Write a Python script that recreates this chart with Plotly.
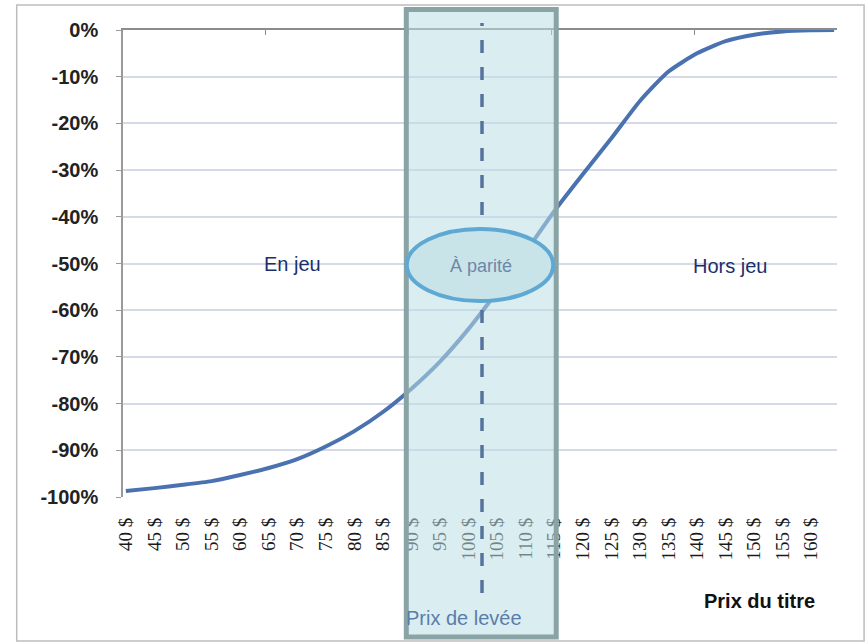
import plotly.graph_objects as go

# Prix du titre ($) et delta de l'option de vente (%)
prix = [40, 45, 50, 55, 60, 65, 70, 75, 80, 85, 90, 95, 100,
        105, 110, 115, 120, 125, 130, 135, 140, 145, 150, 155, 160, 164]
delta = [-98.7, -98.1, -97.4, -96.6, -95.3, -93.8, -91.9, -89.2, -85.9, -81.8,
         -76.8, -71.0, -64.0, -56.0, -47.5, -38.8, -30.9, -23.2, -15.2, -8.9,
         -5.0, -2.4, -1.0, -0.3, -0.05, 0.0]

# Étiquettes de l'axe des prix
prix_ticks = list(range(40, 161, 5))
prix_labels = [f"{p} $" for p in prix_ticks]

# Étiquettes de l'axe du delta
delta_ticks = list(range(0, -101, -10))
delta_labels = [f"{v}%" for v in delta_ticks]

# Séparateurs de l'axe supérieur (toutes les 25 $)
separateurs = [39.5, 64.5, 89.5, 114.5, 139.5, 164.5]

X_RANGE = [39.5, 164.5]

fig = go.Figure()

fig.add_trace(go.Scatter(
    x=prix, y=delta, mode="lines",
    line=dict(color="#4a72b0", width=4, shape="spline", smoothing=0.6),
    hoverinfo="skip", showlegend=False,
))

# axe supérieur (ligne 0 %) avec séparateurs
fig.add_trace(go.Scatter(x=[None], y=[None], xaxis="x2", showlegend=False))

fig.update_layout(
    width=866, height=643,
    margin=dict(l=123, r=29, t=30, b=146),
    paper_bgcolor="white", plot_bgcolor="white",
    showlegend=False,
    xaxis=dict(
        range=X_RANGE, tickmode="array", tickvals=prix_ticks, ticktext=prix_labels,
        tickangle=-90, ticks="", showgrid=False, zeroline=False, showline=False,
        tickfont=dict(family="Liberation Serif", size=19, color="#1a1a1a"),
        ticklabelstandoff=16,
    ),
    xaxis2=dict(
        range=X_RANGE, overlaying="x", side="top", tickmode="array",
        tickvals=separateurs, showticklabels=False, ticks="inside", ticklen=5,
        tickcolor="#8c8c8c", showline=True, linecolor="#8c8c8c", linewidth=1.5,
        showgrid=False, zeroline=False,
    ),
    yaxis=dict(
        range=[-100, 0], tickmode="array", tickvals=delta_ticks, ticktext=delta_labels,
        ticks="outside", ticklen=5, tickcolor="#9a9a9a",
        showline=True, linecolor="#9a9a9a", linewidth=1.5,
        showgrid=True, gridcolor="#d5dae8", gridwidth=1.5, zeroline=False,
        tickfont=dict(family="Liberation Sans", size=20, color="#222222", weight="bold"),
        ticklabelstandoff=14,
    ),
)

def px_x(p):
    return (p - 123) / 712

def px_y(p):
    return (497 - p) / 467

shapes = [
    # cadre extérieur
    dict(type="rect", xref="paper", yref="paper",
         x0=px_x(17), x1=px_x(862), y0=px_y(641), y1=px_y(5),
         line=dict(color="#bdbdbd", width=1.5), fillcolor="rgba(0,0,0,0)", layer="below"),
    # zone autour du prix de levée
    dict(type="rect", xref="paper", yref="paper",
         x0=px_x(405.5), x1=px_x(555), y0=px_y(637), y1=px_y(9.5),
         line=dict(color="#8aa4a6", width=5), fillcolor="rgba(188,222,228,0.55)",
         layer="above"),
    # prix de levée
    dict(type="line", xref="paper", yref="paper",
         x0=px_x(481), x1=px_x(481), y0=px_y(593), y1=px_y(23),
         line=dict(color="#55739f", width=3.5, dash="13px,14px"), layer="above"),
    # ellipse « à parité »
    dict(type="circle", xref="paper", yref="paper",
         x0=px_x(406), x1=px_x(552), y0=px_y(301), y1=px_y(229),
         line=dict(color="#5ea8d4", width=4), fillcolor="#c9e4e8", layer="above"),
]
fig.update_layout(shapes=shapes)

annots = [
    dict(text="En jeu", x=px_x(292), y=px_y(264), color="#1b2f6e", size=20, xanchor="center", bold=False),
    dict(text="Hors jeu", x=px_x(728), y=px_y(266), color="#1b2f6e", size=20, xanchor="center", bold=False),
    dict(text="À parité", x=px_x(480), y=px_y(266), color="#6d87aa", size=18, xanchor="center", bold=False),
    dict(text="Prix de levée", x=px_x(403), y=px_y(618), color="#5a7daa", size=20, xanchor="left", bold=False),
    dict(text="Prix du titre", x=px_x(758), y=px_y(601), color="#111111", size=20, xanchor="center", bold=True),
]
for a in annots:
    fig.add_annotation(
        text=a["text"], x=a["x"], y=a["y"], xref="paper", yref="paper",
        xanchor=a["xanchor"], yanchor="middle", showarrow=False,
        font=dict(family="Liberation Sans", size=a["size"], color=a["color"],
                  weight="bold" if a["bold"] else "normal"),
    )

fig.write_html("out.html")
